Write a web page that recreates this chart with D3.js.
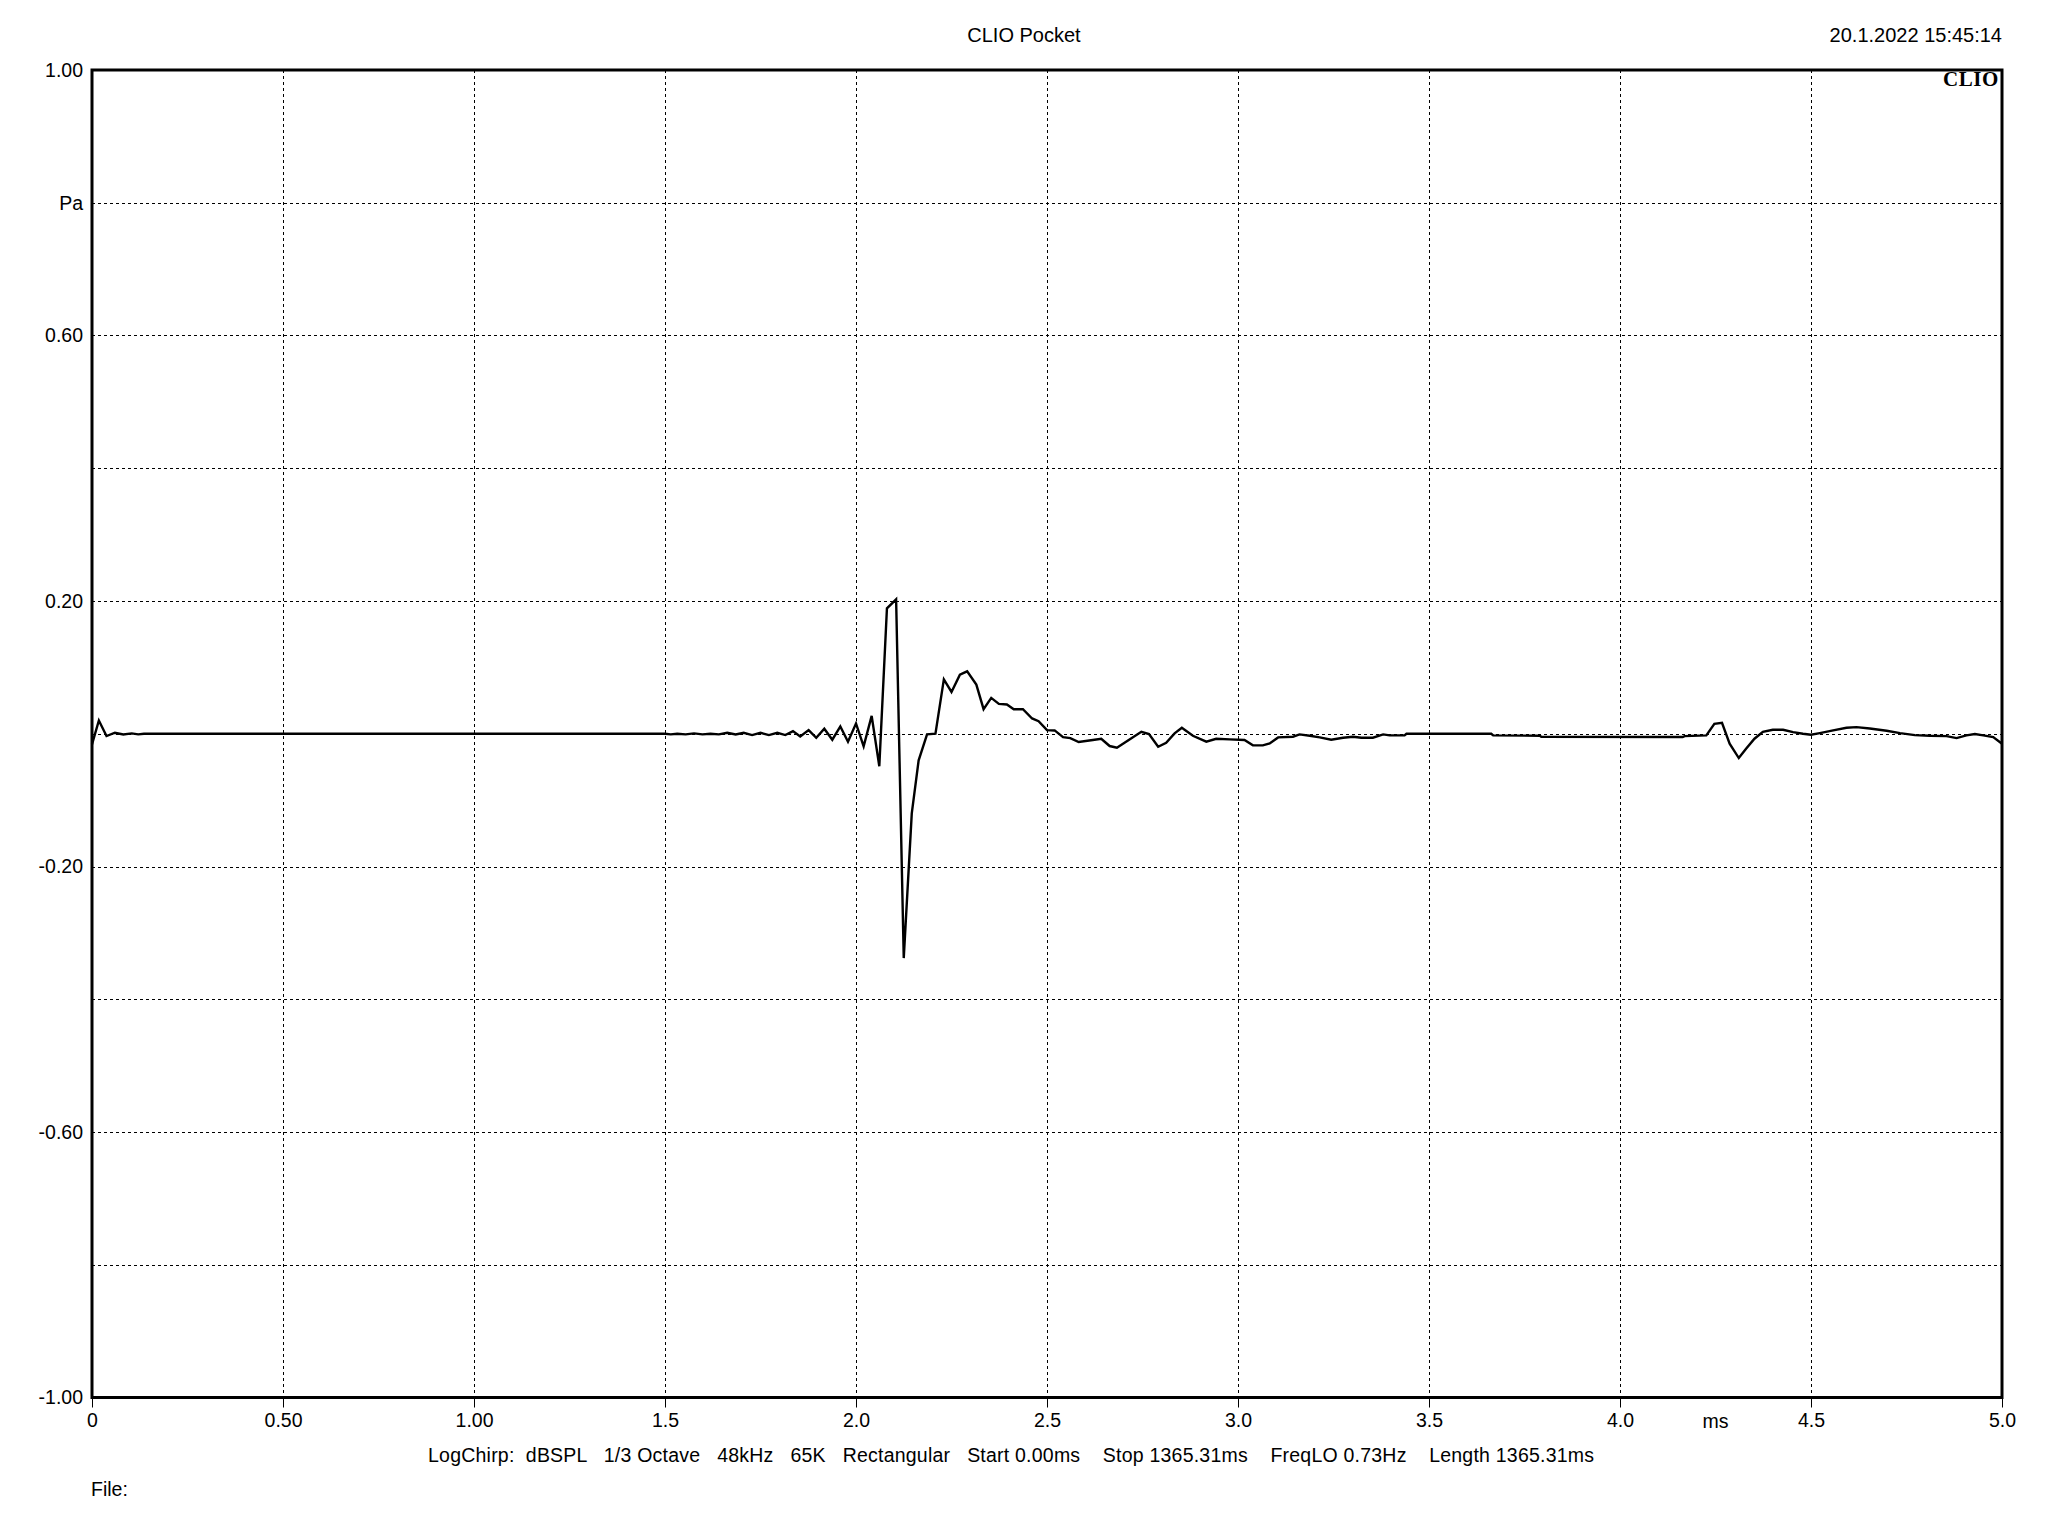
<!DOCTYPE html>
<html>
<head>
<meta charset="utf-8">
<script src="https://cdn.jsdelivr.net/npm/d3@7"></script>
<style>
  html, body { margin: 0; padding: 0; background: #fff; }
  svg { display: block; }
  text { font-family: "Liberation Sans", Arial, sans-serif; fill: #000; }
</style>
</head>
<body>
<svg id="chart" width="2048" height="1536"></svg>
<script>
// ---- data ----
const timeMs = [
  0.000, 0.018, 0.038, 0.060, 0.082, 0.104, 0.121, 0.136, 1.500,
  1.515, 1.532, 1.554, 1.576, 1.598, 1.619, 1.641, 1.663, 1.685, 1.706,
  1.728, 1.750, 1.772, 1.794, 1.815, 1.835, 1.854, 1.876, 1.896, 1.917,
  1.938, 1.959, 1.979, 2.000, 2.020, 2.041, 2.061, 2.081, 2.105, 2.125,
  2.146, 2.164, 2.186, 2.208, 2.230, 2.250, 2.272, 2.291, 2.315, 2.334,
  2.354, 2.374, 2.395, 2.413, 2.437, 2.461, 2.478, 2.500, 2.520, 2.542,
  2.561, 2.583, 2.620, 2.642, 2.664, 2.683, 2.716, 2.747, 2.767, 2.791,
  2.812, 2.834, 2.853, 2.882, 2.917, 2.943, 2.978, 3.017, 3.039, 3.065,
  3.083, 3.105, 3.144, 3.161, 3.188, 3.214, 3.244, 3.275, 3.301, 3.323,
  3.353, 3.380, 3.397, 3.436, 3.441, 3.663, 3.668, 3.790, 3.794, 4.164,
  4.169, 4.226, 4.247, 4.267, 4.287, 4.311, 4.330, 4.352, 4.374, 4.400,
  4.427, 4.453, 4.479, 4.500, 4.523, 4.558, 4.593, 4.619, 4.654, 4.698,
  4.733, 4.772, 4.811, 4.855, 4.881, 4.907, 4.929, 4.951, 4.977, 5.000
];
const pressurePa = [
  -0.016, 0.020, -0.0035, 0.0015, -0.001, 0.0005, -0.001, 0.000, 0.000,
  -0.001, 0.000, -0.001, 0.0005, -0.001, 0.000, -0.001, 0.0015, -0.001, 0.0015,
  -0.002, 0.0015, -0.002, 0.0015, -0.002, 0.004, -0.004, 0.0055, -0.006, 0.0075,
  -0.009, 0.011, -0.012, 0.0155, -0.019, 0.027, -0.049, 0.189, 0.2025, -0.338,
  -0.120, -0.040, -0.001, 0.000, 0.082, 0.063, 0.089, 0.094, 0.074, 0.037,
  0.054, 0.045, 0.044, 0.037, 0.037, 0.023, 0.019, 0.0055, 0.005, -0.005,
  -0.0065, -0.0125, -0.0095, -0.0075, -0.0185, -0.021, -0.0085, 0.003, -0.0005, -0.0196,
  -0.0135, 0.0005, 0.009, -0.003, -0.012, -0.0075, -0.0085, -0.0095, -0.0175, -0.0175,
  -0.0145, -0.0055, -0.0045, -0.001, -0.003, -0.0055, -0.009, -0.006, -0.0045, -0.006,
  -0.006, -0.001, -0.0025, -0.0025, 0.000, 0.000, -0.0025, -0.003, -0.0045, -0.005,
  -0.0035, -0.0025, 0.015, 0.0166, -0.015, -0.0366, -0.0226, -0.0075, 0.003, 0.006,
  0.006, 0.0025, 0.000, -0.0015, 0.001, 0.005, 0.009, 0.010, 0.008, 0.0045,
  0.001, -0.002, -0.003, -0.0035, -0.0065, -0.0025, -0.0005, -0.0025, -0.005, -0.015
];
const xTicks = [0, 0.5, 1.0, 1.5, 2.0, 2.5, 3.0, 3.5, 4.0, 4.5, 5.0];
const xTickLabels = ["0", "0.50", "1.00", "1.5", "2.0", "2.5", "3.0", "3.5", "4.0", "4.5", "5.0"];
const yGrid = [-0.8, -0.6, -0.4, -0.2, 0, 0.2, 0.4, 0.6, 0.8];
const yTicks = [1.0, 0.8, 0.6, 0.2, -0.2, -0.6, -1.0];
const yTickLabels = ["1.00", "Pa", "0.60", "0.20", "-0.20", "-0.60", "-1.00"];
const titleText = "CLIO Pocket";
const dateText = "20.1.2022 15:45:14";
const footerText = "LogChirp:  dBSPL   1/3 Octave   48kHz   65K   Rectangular   Start 0.00ms    Stop 1365.31ms    FreqLO 0.73Hz    Length 1365.31ms";
const fileText = "File:";
const xUnit = "ms";
const xUnitAt = 4.25;

// ---- layout ----
const L = 92, R = 2002, T = 70, B = 1397.5;
const FS = 19.5;

const svg = d3.select("#chart");
svg.append("rect").attr("width", 2048).attr("height", 1536).attr("fill", "#fff");

const x = d3.scaleLinear().domain([0, 5]).range([L, R]);
const y = d3.scaleLinear().domain([-1, 1]).range([B, T]);

// grid
const grid = svg.append("g").attr("stroke", "#000").attr("stroke-width", 1)
  .attr("stroke-dasharray", "3,3").attr("shape-rendering", "crispEdges");
grid.selectAll("line.v").data(xTicks.slice(1, -1)).join("line")
  .attr("x1", d => Math.round(x(d)) + 0.5).attr("x2", d => Math.round(x(d)) + 0.5)
  .attr("y1", T).attr("y2", B);
grid.selectAll("line.h").data(yGrid).join("line")
  .attr("y1", d => Math.round(y(d)) + 0.5).attr("y2", d => Math.round(y(d)) + 0.5)
  .attr("x1", L).attr("x2", R);

// x axis (ticks below the frame)
const xAxis = d3.axisBottom(x).tickValues(xTicks)
  .tickFormat((d, i) => xTickLabels[i]).tickSize(10).tickPadding(6);
const gx = svg.append("g").attr("transform", `translate(0,${B})`).call(xAxis);
gx.select(".domain").remove();
gx.selectAll(".tick line").attr("stroke", "#000").attr("stroke-width", 1);
gx.selectAll(".tick text").style("font-size", FS + "px")
  .style("font-family", "'Liberation Sans', Arial, sans-serif").attr("fill", "#000");

svg.append("text").attr("x", x(xUnitAt)).attr("y", 1428).attr("text-anchor", "middle")
  .style("font-size", FS + "px").text(xUnit);

// y axis labels
const yAxis = d3.axisLeft(y).tickValues(yTicks)
  .tickFormat((d, i) => yTickLabels[i]).tickSize(0).tickPadding(9);
const gy = svg.append("g").attr("transform", `translate(${L},0)`).call(yAxis);
gy.select(".domain").remove();
gy.selectAll(".tick text").style("font-size", FS + "px")
  .style("font-family", "'Liberation Sans', Arial, sans-serif").attr("fill", "#000");

// data line
const pts = timeMs.map((t, i) => [t, pressurePa[i]]);
const line = d3.line().x(d => x(d[0])).y(d => y(d[1]));
svg.append("path").datum(pts).attr("d", line)
  .attr("fill", "none").attr("stroke", "#000").attr("stroke-width", 2.4)
  .attr("stroke-linejoin", "miter");

// frame
svg.append("rect").attr("x", L).attr("y", T).attr("width", R - L).attr("height", B - T)
  .attr("fill", "none").attr("stroke", "#000").attr("stroke-width", 3);

// texts
svg.append("text").attr("x", 1024).attr("y", 42).attr("text-anchor", "middle")
  .style("font-size", "20px").text(titleText);
svg.append("text").attr("x", 2002).attr("y", 42).attr("text-anchor", "end")
  .style("font-size", "20px").text(dateText);
svg.append("text").attr("x", 1999).attr("y", 86).attr("text-anchor", "end")
  .style("font-family", "'Liberation Serif', 'DejaVu Serif', serif")
  .style("font-weight", "bold").style("font-size", "21px").style("letter-spacing", "0.6px")
  .text("CLIO");
svg.append("text").attr("x", 428).attr("y", 1462)
  .attr("textLength", 1166).attr("lengthAdjust", "spacing")
  .style("font-size", FS + "px").style("white-space", "pre").text(footerText);
svg.append("text").attr("x", 91).attr("y", 1496)
  .style("font-size", FS + "px").text(fileText);
</script>
</body>
</html>
